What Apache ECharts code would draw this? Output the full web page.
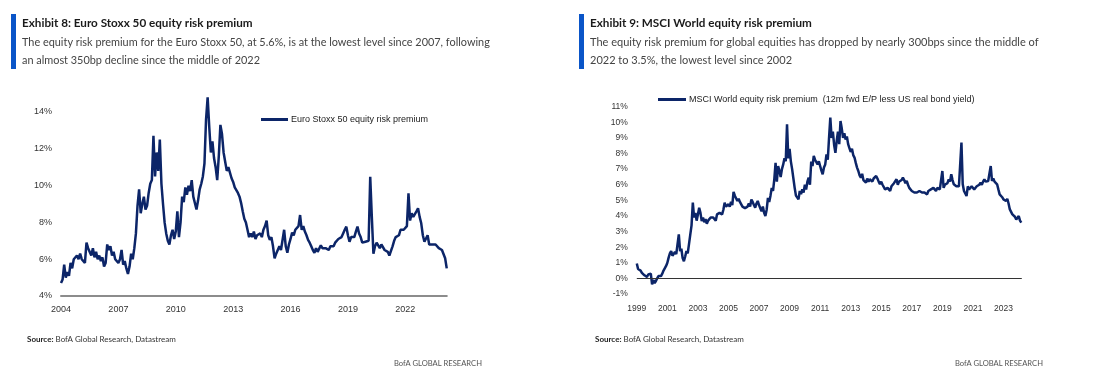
<!DOCTYPE html>
<html lang="en">
<head>
<meta charset="UTF-8">
<title>Equity risk premium</title>
<script src="https://cdn.jsdelivr.net/npm/echarts@6/dist/echarts.min.js"></script>
<style>
    html, body { margin: 0; padding: 0; background: #fff; }
    #main { width: 1106px; height: 376px; }
</style>
</head>
<body>
<div id="main"></div>
<script type="text/javascript">
    // monthly readings, first value = January of the start year
    var euroStart = 2004;
    var euroErp = [
        4.7, 4.9, 5.7, 5.0, 5.3, 5.1, 5.8, 5.5, 6.0, 5.9, 6.2, 6.0,
        6.3, 6.0, 6.1, 5.8, 6.9, 6.6, 6.5, 6.2, 6.6, 6.1, 6.4, 6.0,
        6.2, 5.9, 6.1, 5.6, 5.8, 6.8, 6.5, 6.7, 6.2, 6.4, 6.0, 6.1,
        5.8, 6.0, 6.5, 5.7, 5.9, 5.5, 5.2, 5.6, 6.3, 6.0, 6.6, 7.4,
        8.9, 9.8, 8.5, 9.0, 9.4, 8.7, 8.9, 9.6, 10.1, 10.3, 12.7, 10.5,
        11.8, 10.8, 12.5, 10.1, 9.0, 8.0, 7.4, 7.0, 6.8, 7.3, 7.6, 7.1,
        7.5, 8.6, 7.2, 8.0, 9.4, 9.1, 9.9, 9.5, 10.0, 9.7, 10.3, 9.4,
        9.4, 8.7, 9.2, 9.8, 10.1, 10.5, 11.2, 13.6, 14.8, 13.2, 11.8, 12.4,
        11.5, 11.0, 10.3, 11.6, 13.3, 12.8, 11.8, 11.3, 10.8, 11.0, 10.9, 10.4,
        10.2, 9.9, 10.0, 9.6, 9.4, 9.05, 8.6, 8.2, 8.0, 7.6, 7.2, 7.4,
        7.2, 7.5, 7.1, 7.3, 7.2, 7.4, 7.2, 7.6, 7.8, 8.1, 7.3, 7.05,
        7.2, 6.7, 6.05, 6.3, 6.2, 6.7, 6.5, 6.4, 7.6, 6.7, 6.35, 6.8,
        7.1, 7.45, 7.3, 7.6, 7.5, 7.8, 8.4, 7.6, 7.8, 7.5, 7.3, 7.05,
        6.9, 6.7, 6.5, 6.35, 6.6, 6.4, 6.5, 6.75, 6.6, 6.5, 6.6, 6.5,
        6.5, 6.7, 6.8, 6.7, 6.9, 7.0, 7.1, 7.0, 7.2, 7.4, 7.6, 7.77,
        7.3, 6.95, 7.2, 7.3, 7.2, 7.5, 7.77, 7.4, 7.2, 6.9, 7.0, 6.95,
        6.9, 7.0, 10.48, 8.3, 6.3, 6.7, 6.9, 6.8, 6.6, 6.8, 6.7, 6.5,
        6.6, 6.4, 6.2, 6.3, 6.7, 7.0, 7.2, 7.1, 7.3, 7.6, 7.5, 7.6,
        7.6, 7.8, 9.58, 8.1, 8.5, 8.3, 8.4, 8.6, 8.77, 8.3, 7.95, 7.3,
        6.95, 6.9, 7.3, 6.8, 6.9, 6.8, 6.7, 6.8, 6.7, 6.6, 6.7, 6.5,
        6.6, 6.05, 5.5
    ];

    var msciStart = 1999;
    var msciErp = [
        0.95, 0.6, 0.7, 0.5, 0.36, 0.45, 0.2, 0.3, 0.1, 0.25, 0.15, 0.3,
        -0.38, -0.1, -0.3, -0.17, 0.0, 0.15, 0.1, 0.15, 0.3, 0.5, 0.6, 0.8,
        1.0, 1.33, 1.6, 1.75, 1.45, 1.5, 1.7, 1.55, 2.2, 2.82, 1.75, 1.9,
        1.3, 1.1, 1.4, 1.75, 1.6, 2.2, 2.8, 3.4, 4.85, 3.9, 4.2, 3.7,
        4.1, 4.53, 4.2, 3.67, 3.9, 3.6, 3.8, 3.5, 3.7, 3.67, 3.9, 3.8,
        3.9, 4.0, 3.7, 4.1, 4.0, 4.2, 4.3, 4.1, 4.4, 4.85, 4.6, 4.7,
        4.75, 4.6, 4.9, 4.7, 5.55, 5.3, 5.2, 4.96, 5.1, 4.9, 4.8, 4.6,
        4.7, 4.5, 4.42, 4.6, 4.8, 4.6, 5.05, 4.9, 4.7, 4.53, 4.8, 4.96,
        4.7, 4.5, 4.3, 4.6, 4.2, 4.0, 4.4, 5.15, 4.9, 5.3, 5.8, 5.6,
        6.35, 7.4, 6.2, 7.2, 6.9, 6.5, 7.0, 7.3, 7.7, 7.5, 9.87, 7.7,
        8.3, 7.5, 7.0, 6.4, 5.8, 5.3, 5.2, 5.06, 5.6, 5.4, 5.7, 5.5,
        6.0, 5.7, 6.2, 6.45, 6.0, 7.48, 7.2, 7.84, 7.6, 7.48, 7.3, 7.5,
        7.2, 6.9, 6.67, 7.1, 7.3, 7.95, 7.6, 9.0, 10.3, 9.0, 9.4, 8.55,
        8.05, 8.8, 9.4, 8.6, 10.08, 9.6, 9.0, 9.3, 8.9, 9.1, 8.6, 8.35,
        8.1, 8.3, 7.9, 7.74, 7.4, 7.1, 6.88, 6.6, 6.45, 6.7, 6.3, 6.2,
        6.13, 6.4, 6.2, 6.35, 6.3, 6.2, 6.4, 6.3, 6.56, 6.4, 6.2, 6.03,
        6.2, 6.0, 5.9, 5.7, 5.6, 5.8, 5.7, 5.6, 5.9, 5.8, 6.1, 6.0,
        6.35, 6.0, 6.2, 6.1, 6.3, 6.45, 6.3, 6.1, 6.24, 6.0, 5.8, 5.7,
        5.6, 5.7, 5.5, 5.6, 5.5, 5.4, 5.6, 5.5, 5.5, 5.6, 5.5, 5.4,
        5.38, 5.6, 5.5, 5.7, 5.6, 5.8, 5.7, 5.6, 5.8, 5.9, 5.7, 5.8,
        6.88, 5.8, 6.0, 5.9, 6.1, 6.35, 6.2, 6.67, 6.3, 6.03, 6.1, 5.9,
        5.8, 5.9, 5.8, 8.7, 6.03, 5.6, 5.7, 5.28, 5.9, 5.7, 5.8, 5.9,
        5.8, 5.7, 5.8, 5.9, 5.8, 6.0, 6.13, 6.0, 6.2, 6.35, 6.2, 6.1,
        6.24, 6.3, 7.2, 6.24, 6.4, 6.2, 6.1, 6.03, 5.7, 5.38, 5.3, 5.2,
        5.06, 5.0, 4.96, 5.1, 4.8, 4.42, 4.5, 4.1, 4.2, 3.95, 3.78, 3.85,
        3.99, 3.7, 3.57
    ];

    var euroName = 'Euro Stoxx 50 equity risk premium';
    var msciName = 'MSCI World equity risk premium  (12m fwd E/P less US real bond yield)';

    function monthly(start, vals) {
        return vals.map(function (v, i) { return [start + i / 12, v]; });
    }

    var navy = '#0c2568';
    var axisFont = 'Liberation Sans';
    var headFont = 'Lato';

    var yearLabel = function (v) {
        return Math.abs(v - Math.round(v)) < 1e-6 ? String(Math.round(v)) : '';
    };

    var myChart = echarts.init(document.getElementById('main'));

    var option = {
        animation: false,
        grid: [
            {left: 61, top: 93.6, width: 385.8, height: 202.4},
            {left: 636.8, top: 106.7, width: 385, height: 187.3}
        ],
        xAxis: [
            {
                gridIndex: 0, type: 'value', min: 2004, max: 2024.17, interval: 3,
                splitLine: {show: false},
                axisTick: {show: false},
                axisLine: {lineStyle: {color: '#8c8c8c', width: 2}},
                axisLabel: {formatter: yearLabel, fontSize: 9, fontFamily: axisFont, color: '#333', margin: 9}
            },
            {
                gridIndex: 1, type: 'value', min: 1999, max: 2024.2, interval: 2,
                splitLine: {show: false},
                axisTick: {show: false},
                axisLine: {show: false, onZero: false},
                axisLabel: {formatter: yearLabel, fontSize: 8.5, fontFamily: axisFont, color: '#333', margin: 10}
            }
        ],
        yAxis: [
            {
                gridIndex: 0, type: 'value', min: 4, max: 15, interval: 2,
                splitLine: {show: false},
                axisTick: {show: false},
                axisLine: {show: false},
                axisLabel: {
                    formatter: function (v) { return v % 2 === 0 ? v + '%' : ''; },
                    fontSize: 9, fontFamily: axisFont, color: '#333', margin: 9
                }
            },
            {
                gridIndex: 1, type: 'value', min: -1, max: 11, interval: 1,
                splitLine: {show: false},
                axisTick: {show: false},
                axisLine: {show: false},
                axisLabel: {formatter: '{value}%', fontSize: 8.5, fontFamily: axisFont, color: '#333', margin: 9}
            }
        ],
        legend: [
            {
                data: [euroName], left: 261, top: 115, padding: 0,
                icon: 'rect', itemWidth: 27, itemHeight: 3, selectedMode: false,
                textStyle: {fontSize: 9, fontFamily: axisFont, color: '#222', padding: [0, 0, 0, -2]}
            },
            {
                data: [msciName], left: 658, top: 95, padding: 0,
                icon: 'rect', itemWidth: 28, itemHeight: 3, selectedMode: false,
                textStyle: {fontSize: 9, fontFamily: axisFont, color: '#222', padding: [0, 0, 0, -2]}
            }
        ],
        series: [
            {
                name: euroName, type: 'line', xAxisIndex: 0, yAxisIndex: 0,
                showSymbol: false, color: navy,
                lineStyle: {width: 2.5, color: navy},
                data: monthly(euroStart, euroErp)
            },
            {
                name: msciName, type: 'line', xAxisIndex: 1, yAxisIndex: 1,
                showSymbol: false, color: navy,
                lineStyle: {width: 2.5, color: navy},
                markLine: {
                    silent: true, symbol: 'none', label: {show: false},
                    lineStyle: {color: '#333', width: 1, type: 'solid'},
                    data: [{yAxis: 0}]
                },
                data: monthly(msciStart, msciErp)
            }
        ],
        graphic: [
            {type: 'rect', left: 11, top: 14, shape: {width: 5, height: 55}, style: {fill: '#0a55c8'}},
            {type: 'rect', left: 579, top: 14, shape: {width: 5, height: 55}, style: {fill: '#0a55c8'}},
            {
                type: 'text', left: 22, top: 17,
                style: {text: 'Exhibit 8: Euro Stoxx 50 equity risk premium', font: 'bold 11.7px ' + headFont, fill: '#1a1a1a'}
            },
            {
                type: 'text', left: 22, top: 33,
                style: {
                    text: 'The equity risk premium for the Euro Stoxx 50, at 5.6%, is at the lowest level since 2007, following\nan almost 350bp decline since the middle of 2022',
                    font: '10.9px ' + headFont, lineHeight: 18, fill: '#444'
                }
            },
            {
                type: 'text', left: 590, top: 17,
                style: {text: 'Exhibit 9: MSCI World equity risk premium', font: 'bold 11.7px ' + headFont, fill: '#1a1a1a'}
            },
            {
                type: 'text', left: 590, top: 33,
                style: {
                    text: 'The equity risk premium for global equities has dropped by nearly 300bps since the middle of\n2022 to 3.5%, the lowest level since 2002',
                    font: '11px ' + headFont, lineHeight: 18, fill: '#444'
                }
            },
            {
                type: 'text', left: 27, top: 335,
                style: {
                    text: '{b|Source:} BofA Global Research, Datastream',
                    font: '8px ' + headFont, fill: '#333',
                    rich: {b: {fontWeight: 'bold', fontSize: 8, fontFamily: headFont, fill: '#222'}}
                }
            },
            {
                type: 'text', left: 595, top: 335,
                style: {
                    text: '{b|Source:} BofA Global Research, Datastream',
                    font: '8px ' + headFont, fill: '#333',
                    rich: {b: {fontWeight: 'bold', fontSize: 8, fontFamily: headFont, fill: '#222'}}
                }
            },
            {type: 'text', left: 394, top: 360, style: {text: 'BofA GLOBAL RESEARCH', font: '7.6px ' + headFont, fill: '#555'}},
            {type: 'text', left: 955, top: 360, style: {text: 'BofA GLOBAL RESEARCH', font: '7.6px ' + headFont, fill: '#555'}}
        ]
    };

    myChart.setOption(option);
</script>
</body>
</html>
